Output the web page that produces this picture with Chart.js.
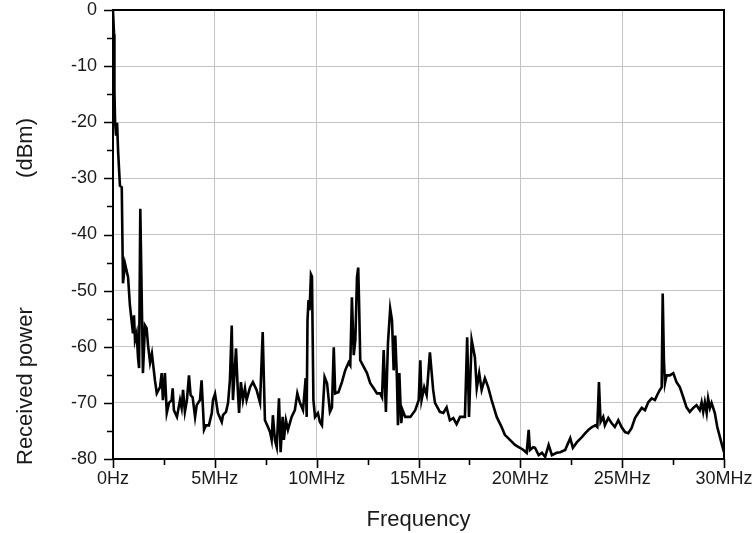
<!DOCTYPE html>
<html>
<head>
<meta charset="utf-8">
<script src="https://cdn.jsdelivr.net/npm/chart.js@4/dist/chart.umd.min.js"></script>
<style>
  html, body { margin: 0; padding: 0; background: #ffffff; }
  #c { display: block; }
</style>
</head>
<body>
<canvas id="c" width="756" height="533"></canvas>
<script>
// Spectrum trace: frequency (MHz) and received power (dBm)
const freqMHz = [
  0.00, 0.05, 0.07, 0.10, 0.15, 0.20, 0.25, 0.34, 0.43, 0.49, 0.59, 0.74, 0.83, 0.98, 1.03, 1.08,
  1.16, 1.23, 1.28, 1.34, 1.47, 1.57, 1.65, 1.72, 1.82, 1.91, 2.06, 2.15, 2.31, 2.39, 2.45, 2.55,
  2.64, 2.75, 2.88, 2.93, 2.99, 3.14, 3.29, 3.37, 3.44, 3.53, 3.63, 3.73, 3.81, 3.91, 4.03, 4.11,
  4.27, 4.35, 4.47, 4.57, 4.71, 4.85, 4.91, 5.01, 5.15, 5.34, 5.40, 5.55, 5.65, 5.74, 5.83, 5.89,
  6.04, 6.12, 6.19, 6.28, 6.38, 6.48, 6.56, 6.73, 6.87, 7.05, 7.22, 7.35, 7.46, 7.61, 7.71, 7.79,
  7.85, 7.95, 8.04, 8.15, 8.23, 8.33, 8.39, 8.49, 8.59, 8.77, 8.93, 9.05, 9.18, 9.33, 9.46, 9.51,
  9.55, 9.60, 9.65, 9.72, 9.77, 9.84, 9.92, 10.06, 10.16, 10.26, 10.39, 10.51, 10.65, 10.75, 10.84, 10.91,
  11.07, 11.24, 11.40, 11.57, 11.65, 11.73, 11.82, 11.90, 11.98, 12.04, 12.08, 12.14, 12.31, 12.47, 12.63, 12.80,
  12.96, 13.12, 13.21, 13.29, 13.40, 13.50, 13.61, 13.70, 13.78, 13.86, 13.94, 13.99, 14.06, 14.15, 14.22, 14.35,
  14.60, 14.84, 15.01, 15.09, 15.15, 15.28, 15.40, 15.56, 15.72, 15.81, 16.05, 16.22, 16.38, 16.54, 16.71, 16.87,
  17.04, 17.28, 17.39, 17.48, 17.61, 17.77, 17.86, 17.98, 18.10, 18.26, 18.42, 18.59, 18.84, 19.08, 19.24, 19.49,
  19.74, 19.98, 20.15, 20.31, 20.41, 20.47, 20.63, 20.72, 20.90, 21.06, 21.22, 21.39, 21.55, 21.78, 21.96, 22.20,
  22.45, 22.58, 22.78, 23.02, 23.19, 23.35, 23.52, 23.68, 23.78, 23.86, 23.94, 24.07, 24.15, 24.32, 24.48, 24.64,
  24.81, 24.97, 25.14, 25.30, 25.46, 25.63, 25.79, 25.96, 26.12, 26.28, 26.45, 26.61, 26.72, 26.85, 26.94, 26.99,
  27.05, 27.10, 27.18, 27.34, 27.51, 27.67, 27.83, 28.00, 28.16, 28.32, 28.49, 28.65, 28.81, 28.90, 28.98, 29.06,
  29.15, 29.22, 29.31, 29.39, 29.55, 29.67, 29.80, 29.93, 30.00
];
const powerDbm = [
  -0.2, -4.3, -14.4, -19.7, -22.4, -20.1, -25.1, -31.3, -31.6, -48.7, -45.2, -47.6, -52.6, -57.6, -54.4, -58.8,
  -57.6, -62.0, -63.8, -35.4, -64.7, -56.2, -56.7, -59.7, -62.8, -61.2, -66.0, -68.3, -67.2, -64.7, -69.5, -64.7,
  -71.8, -70.0, -69.5, -67.4, -71.3, -72.5, -69.5, -70.9, -67.7, -71.6, -69.5, -65.1, -68.6, -69.0, -72.5, -70.4,
  -69.5, -66.0, -74.8, -74.0, -74.0, -71.8, -69.5, -68.4, -71.8, -73.4, -72.2, -71.6, -70.0, -66.0, -56.2, -69.5,
  -60.3, -67.2, -71.8, -66.3, -69.5, -67.4, -69.5, -67.2, -66.3, -67.7, -70.0, -57.4, -73.1, -74.3, -75.2, -76.6,
  -72.2, -76.6, -77.9, -69.2, -78.8, -72.5, -76.6, -73.1, -74.8, -72.5, -71.3, -68.3, -70.0, -71.3, -65.6, -72.5,
  -55.3, -51.7, -53.5, -47.1, -47.5, -69.5, -72.5, -71.8, -73.4, -74.0, -65.4, -66.5, -71.6, -70.8, -60.1, -68.3,
  -68.1, -66.3, -64.2, -62.8, -63.3, -51.2, -61.5, -58.8, -47.6, -45.9, -51.7, -62.4, -63.6, -64.7, -66.5, -67.4,
  -68.3, -68.3, -69.0, -60.6, -71.6, -59.4, -53.2, -55.3, -64.2, -58.0, -65.6, -74.0, -64.7, -73.6, -71.3, -72.5,
  -72.5, -71.3, -69.5, -62.4, -69.5, -67.2, -68.6, -61.0, -67.7, -70.0, -71.6, -71.8, -70.8, -73.1, -72.7, -73.8,
  -72.5, -72.5, -58.3, -72.5, -58.8, -61.9, -67.4, -64.7, -67.7, -65.6, -67.2, -69.5, -72.5, -74.3, -75.7, -76.6,
  -77.5, -78.0, -78.4, -78.9, -74.8, -78.4, -77.9, -78.0, -79.3, -78.9, -79.6, -77.5, -79.3, -78.9, -78.8, -78.4,
  -76.3, -78.0, -77.0, -76.1, -75.4, -74.8, -74.3, -74.0, -74.3, -66.3, -73.4, -72.5, -74.0, -72.7, -73.6, -74.3,
  -73.1, -74.3, -75.2, -75.4, -74.5, -72.7, -71.8, -70.9, -71.3, -69.9, -69.2, -69.5, -68.6, -67.7, -67.2, -50.5,
  -62.4, -66.5, -65.1, -65.1, -64.7, -66.3, -67.2, -69.0, -70.8, -71.6, -70.9, -70.4, -71.3, -69.9, -71.6, -69.9,
  -71.8, -69.2, -70.9, -70.0, -71.8, -74.3, -76.1, -77.9, -78.8
];

// Axis ticks and labels
const xTickValues = [0, 5, 10, 15, 20, 25, 30];
const xTickLabels = ['0Hz', '5MHz', '10MHz', '15MHz', '20MHz', '25MHz', '30MHz'];
const yTickValues = [0, -10, -20, -30, -40, -50, -60, -70, -80];
const yTickLabels = ['0', '-10', '-20', '-30', '-40', '-50', '-60', '-70', '-80'];
const xAxisTitle = 'Frequency';
const yAxisTitleMain = 'Received power';
const yAxisTitleUnit = '(dBm)';

const FONT = "'Liberation Sans', Arial, sans-serif";
const TEXT_COLOR = '#1a1a1a';

const points = freqMHz.map((f, i) => ({ x: f, y: powerDbm[i] }));

// Black frame plus outward major/minor tick marks, placed through the scales
const frameAndTicks = {
  id: 'frameAndTicks',
  afterDatasetsDraw(chart) {
    const { ctx, chartArea: a, scales: { x, y } } = chart;
    ctx.save();
    ctx.strokeStyle = '#000';
    ctx.lineWidth = 1.6;
    ctx.beginPath();
    // x ticks: major every 5 MHz, minor halfway
    for (let v = 0; v <= 30; v += 2.5) {
      const px = Math.round(x.getPixelForValue(v)) + 0.5;
      const len = (v % 5 === 0) ? 9 : 6;
      ctx.moveTo(px, a.bottom);
      ctx.lineTo(px, a.bottom + len);
    }
    // y ticks: major every 10 dBm, minor halfway
    for (let v = 0; v >= -80; v -= 5) {
      const py = Math.round(y.getPixelForValue(v)) + 0.5;
      const len = (v % 10 === 0) ? 9 : 6;
      ctx.moveTo(a.left, py);
      ctx.lineTo(a.left - len, py);
    }
    ctx.stroke();
    ctx.lineWidth = 2;
    ctx.strokeRect(a.left, a.top, a.right - a.left, a.bottom - a.top);
    ctx.restore();
  }
};

// Rotated y-axis title: quantity reads up from the bottom, unit sits near the top
const yTitle = {
  id: 'yTitle',
  afterDraw(chart) {
    const { ctx, chartArea: a } = chart;
    ctx.save();
    ctx.translate(26, 0);
    ctx.rotate(-Math.PI / 2);
    ctx.font = '22px ' + FONT;
    ctx.fillStyle = TEXT_COLOR;
    ctx.textBaseline = 'middle';
    ctx.textAlign = 'left';
    ctx.fillText(yAxisTitleMain, -(a.bottom + 6), 0);
    ctx.textAlign = 'right';
    ctx.fillText(yAxisTitleUnit, -(a.top + 108), 0);
    ctx.restore();
  }
};

new Chart(document.getElementById('c'), {
  type: 'line',
  data: {
    datasets: [{
      data: points,
      borderColor: '#000000',
      borderWidth: 2.6,
      borderJoinStyle: 'miter',
      pointRadius: 0,
      tension: 0,
      fill: false
    }]
  },
  options: {
    responsive: false,
    animation: false,
    devicePixelRatio: 1,
    layout: { padding: { left: 0, right: 32, top: 10, bottom: 0 } },
    plugins: { legend: { display: false }, tooltip: { enabled: false } },
    scales: {
      x: {
        type: 'linear',
        min: 0,
        max: 30,
        afterBuildTicks(s) { s.ticks = xTickValues.map(v => ({ value: v })); },
        afterFit(s) { s.height = 74; s.paddingLeft = 0; s.paddingRight = 0; },
        grid: { color: '#c4c4c4', lineWidth: 1, drawTicks: false },
        border: { display: false },
        ticks: {
          padding: 9,
          color: TEXT_COLOR,
          font: { family: FONT, size: 18 },
          maxRotation: 0,
          autoSkip: false,
          callback: (v) => xTickLabels[xTickValues.indexOf(v)]
        },
        title: {
          display: true,
          text: xAxisTitle,
          color: TEXT_COLOR,
          font: { family: FONT, size: 22 },
          padding: { top: 0, bottom: 0 }
        }
      },
      y: {
        type: 'linear',
        min: -80,
        max: 0,
        afterBuildTicks(s) { s.ticks = yTickValues.map(v => ({ value: v })); },
        afterFit(s) { s.width = 113; s.paddingTop = 0; s.paddingBottom = 0; },
        grid: { color: '#c4c4c4', lineWidth: 1, drawTicks: false },
        border: { display: false },
        ticks: {
          padding: 16,
          color: TEXT_COLOR,
          font: { family: FONT, size: 18 },
          callback: (v) => yTickLabels[yTickValues.indexOf(v)]
        }
      }
    }
  },
  plugins: [frameAndTicks, yTitle]
});
</script>
</body>
</html>
